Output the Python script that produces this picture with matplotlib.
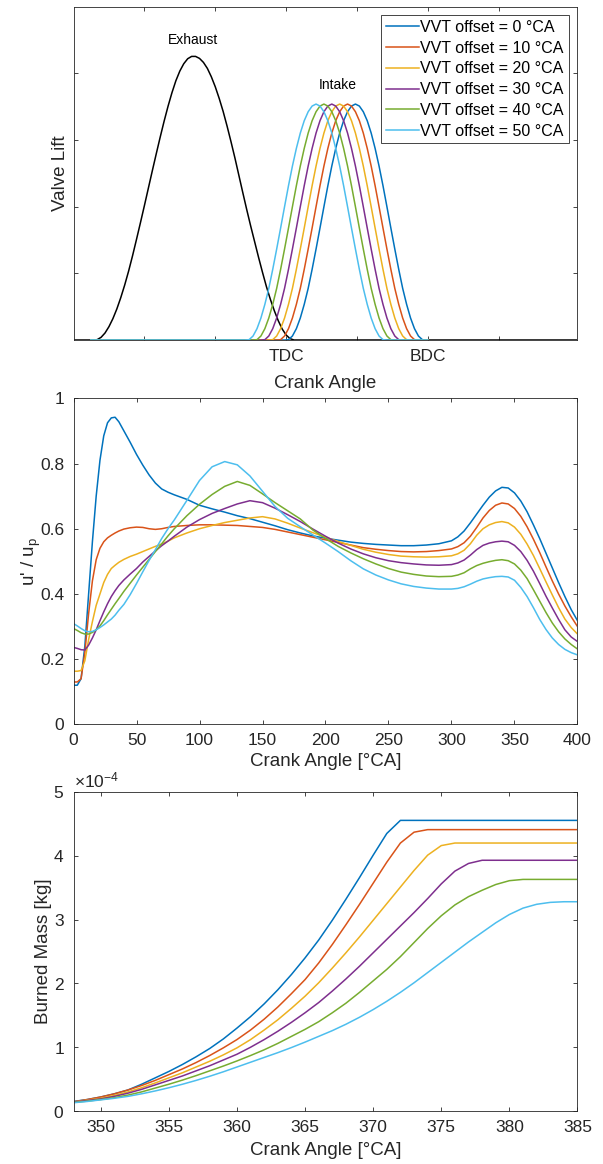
import numpy as np
import matplotlib
matplotlib.use('Agg')
import matplotlib.pyplot as plt
from matplotlib.ticker import ScalarFormatter, FuncFormatter

plt.rcParams['font.family'] = ['Liberation Sans', 'DejaVu Sans']
plt.rcParams['mathtext.fontset'] = 'custom'
plt.rcParams['mathtext.rm'] = 'Liberation Sans'
plt.rcParams['mathtext.it'] = 'Liberation Sans:italic'
plt.rcParams['mathtext.bf'] = 'Liberation Sans:bold'

# --- datos ---
vvt_offsets = [0, 10, 20, 30, 40, 50]
labels = [f"VVT offset = {o} °CA" for o in vvt_offsets]
colores = ['#0072BD', '#D95319', '#EDB120', '#7E2F8E', '#77AC30', '#4DBEEE']

# valve lift (panel 1)
ca_exh = [90, 115, 120, 125, 130, 135, 140, 145, 150, 155, 160, 165, 170, 175, 180, 185, 190,
          195, 200, 205, 210, 215, 220, 225, 230, 235, 240, 245, 250, 255, 260, 265, 270, 275,
          280, 285, 290, 295, 300, 305, 310, 315, 320, 325, 330, 335, 340, 345, 350, 355, 360,
          365, 370, 730]
lift_exh = [0, 0, 0.01, 0.08, 0.21, 0.40, 0.64, 0.93, 1.27, 1.65, 2.07, 2.53, 3.02, 3.52, 4.03,
            4.55, 5.07, 5.58, 6.08, 6.56, 7.01, 7.42, 7.78, 8.07, 8.29, 8.44, 8.51, 8.51, 8.45,
            8.33, 8.15, 7.90, 7.60, 7.25, 6.86, 6.42, 5.95, 5.46, 4.94, 4.42, 3.91, 3.42, 2.95,
            2.48, 2.03, 1.60, 1.22, 0.88, 0.58, 0.33, 0.15, 0.04, 0, 0]
ca_int = [358, 363, 368, 373, 378, 383, 388, 393, 398, 403, 408, 413, 418, 423, 428, 433, 438,
          443, 448, 453, 458, 463, 468, 473, 478, 483, 488, 493, 498, 503, 508, 513, 518, 523,
          528, 533, 538, 540]
lift_int = [0, 0.01, 0.12, 0.34, 0.66, 1.07, 1.55, 2.12, 2.73, 3.36, 4.00, 4.63, 5.22, 5.75,
            6.21, 6.58, 6.85, 7.02, 7.08, 7.02, 6.85, 6.58, 6.21, 5.75, 5.22, 4.63, 4.00, 3.36,
            2.73, 2.12, 1.55, 1.07, 0.66, 0.34, 0.12, 0.01, 0, 0]
tick_va = [180, 270, 360, 450, 540, 630]
tick_va_lbl = ['', '', 'TDC', '', 'BDC', '']

# turbulencia (panel 2)
ca_turb = [0, 3, 6, 9, 12, 15, 18, 21, 24, 27, 30, 33, 36,
           40, 45, 50, 55, 60, 65, 70, 75, 80,
           90, 100, 110, 120, 130, 140, 150, 160, 170, 180, 190, 200, 210, 220, 230, 240,
           250, 260, 270, 280, 290, 300,
           305, 310, 315, 320, 325, 330, 335, 340, 345, 350, 355, 360, 365, 370, 375, 380,
           385, 390, 395, 400]
turb_0 = [0.12, 0.12, 0.14, 0.24, 0.40, 0.56, 0.70, 0.81, 0.885, 0.925, 0.940, 0.942, 0.928,
          0.900, 0.865, 0.828, 0.795, 0.765, 0.740, 0.722, 0.712, 0.704,
          0.690, 0.672, 0.661, 0.651, 0.640, 0.631, 0.620, 0.609, 0.597, 0.587, 0.578, 0.571,
          0.565, 0.559, 0.555, 0.552, 0.550, 0.548, 0.548, 0.550, 0.554, 0.563,
          0.575, 0.593, 0.618, 0.645, 0.672, 0.697, 0.716, 0.727, 0.725, 0.710, 0.685, 0.652,
          0.612, 0.570, 0.525, 0.480, 0.435, 0.392, 0.352, 0.318]
turb_10 = [0.13, 0.13, 0.14, 0.22, 0.34, 0.44, 0.505, 0.540, 0.560, 0.572, 0.580, 0.587, 0.593,
           0.599, 0.603, 0.605, 0.604, 0.600, 0.598, 0.600, 0.604, 0.607,
           0.610, 0.612, 0.612, 0.611, 0.610, 0.607, 0.604, 0.598, 0.590, 0.582, 0.574, 0.566,
           0.558, 0.550, 0.542, 0.537, 0.533, 0.530, 0.529, 0.530, 0.533, 0.538,
           0.545, 0.557, 0.577, 0.604, 0.633, 0.656, 0.672, 0.679, 0.676, 0.662, 0.638, 0.606,
           0.568, 0.527, 0.483, 0.440, 0.400, 0.363, 0.330, 0.300]
turb_20 = [0.163, 0.163, 0.165, 0.195, 0.26, 0.315, 0.365, 0.40, 0.435, 0.46, 0.478, 0.488, 0.497,
           0.506, 0.515, 0.522, 0.530, 0.538, 0.546, 0.553, 0.562, 0.572,
           0.587, 0.600, 0.610, 0.619, 0.626, 0.633, 0.637, 0.630, 0.617, 0.602, 0.588, 0.574,
           0.561, 0.549, 0.537, 0.528, 0.521, 0.516, 0.514, 0.513, 0.514, 0.517,
           0.523, 0.534, 0.554, 0.580, 0.600, 0.612, 0.619, 0.622, 0.618, 0.605, 0.583, 0.553,
           0.518, 0.478, 0.437, 0.397, 0.358, 0.323, 0.297, 0.277]
turb_30 = [0.236, 0.233, 0.229, 0.228, 0.243, 0.265, 0.290, 0.318, 0.345, 0.370, 0.392, 0.410, 0.426,
           0.443, 0.461, 0.478, 0.498, 0.515, 0.532, 0.548, 0.562, 0.577,
           0.605, 0.628, 0.647, 0.662, 0.676, 0.686, 0.680, 0.663, 0.643, 0.622, 0.599, 0.577,
           0.556, 0.538, 0.523, 0.511, 0.502, 0.496, 0.492, 0.489, 0.488, 0.490,
           0.495, 0.504, 0.519, 0.536, 0.549, 0.556, 0.560, 0.562, 0.560, 0.549, 0.530, 0.503,
           0.470, 0.432, 0.393, 0.357, 0.322, 0.290, 0.268, 0.254]
turb_40 = [0.294, 0.288, 0.281, 0.277, 0.277, 0.282, 0.290, 0.302, 0.318, 0.336, 0.353, 0.370, 0.386,
           0.408, 0.433, 0.458, 0.482, 0.506, 0.530, 0.554, 0.578, 0.600,
           0.640, 0.675, 0.705, 0.730, 0.745, 0.733, 0.707, 0.680, 0.655, 0.630, 0.596, 0.570,
           0.546, 0.526, 0.508, 0.492, 0.478, 0.467, 0.460, 0.455, 0.453, 0.454,
           0.458, 0.465, 0.477, 0.487, 0.494, 0.499, 0.503, 0.505, 0.502, 0.492, 0.473, 0.447,
           0.413, 0.378, 0.343, 0.311, 0.284, 0.262, 0.245, 0.231]
turb_50 = [0.309, 0.302, 0.294, 0.287, 0.284, 0.285, 0.290, 0.297, 0.305, 0.314, 0.323, 0.335, 0.350,
           0.368, 0.398, 0.432, 0.468, 0.503, 0.536, 0.570, 0.600, 0.627,
           0.687, 0.748, 0.790, 0.806, 0.796, 0.762, 0.715, 0.668, 0.632, 0.606, 0.581, 0.556,
           0.530, 0.502, 0.477, 0.458, 0.443, 0.431, 0.423, 0.418, 0.415, 0.415,
           0.417, 0.422, 0.430, 0.439, 0.446, 0.450, 0.453, 0.454, 0.452, 0.442, 0.420, 0.392,
           0.358, 0.322, 0.291, 0.265, 0.245, 0.230, 0.220, 0.213]

# masa quemada (panel 3), en 1e-4 kg
ca_burn = [348, 349, 350, 351, 352, 353, 354, 355, 356, 357, 358, 359, 360, 361, 362, 363, 364,
           365, 366, 367, 368, 369, 370, 371, 372, 373, 374, 375, 376, 377, 378, 379, 380, 381,
           382, 383, 384, 385]
burn_0 = [0.15, 0.18, 0.22, 0.27, 0.33, 0.42, 0.52, 0.62, 0.73, 0.85, 0.98, 1.13, 1.30, 1.48,
          1.68, 1.90, 2.14, 2.40, 2.68, 2.99, 3.32, 3.66, 4.01, 4.35, 4.555, 4.555, 4.555, 4.555,
          4.555, 4.555, 4.555, 4.555, 4.555, 4.555, 4.555, 4.555, 4.555, 4.555]
burn_10 = [0.145, 0.18, 0.22, 0.27, 0.33, 0.40, 0.48, 0.57, 0.66, 0.76, 0.87, 0.99, 1.12, 1.27,
           1.44, 1.63, 1.84, 2.06, 2.32, 2.61, 2.92, 3.24, 3.57, 3.90, 4.20, 4.37, 4.41, 4.41,
           4.41, 4.41, 4.41, 4.41, 4.41, 4.41, 4.41, 4.41, 4.41, 4.41]
burn_20 = [0.14, 0.17, 0.20, 0.245, 0.30, 0.365, 0.44, 0.52, 0.60, 0.69, 0.78, 0.88, 0.99, 1.12,
           1.27, 1.43, 1.61, 1.80, 2.01, 2.24, 2.48, 2.73, 2.99, 3.25, 3.51, 3.77, 4.01, 4.16,
           4.20, 4.20, 4.20, 4.20, 4.20, 4.20, 4.20, 4.20, 4.20, 4.20]
burn_30 = [0.14, 0.165, 0.19, 0.23, 0.28, 0.34, 0.41, 0.48, 0.55, 0.63, 0.71, 0.80, 0.89, 1.00,
           1.12, 1.25, 1.39, 1.54, 1.70, 1.88, 2.07, 2.27, 2.48, 2.69, 2.90, 3.11, 3.33, 3.56,
           3.76, 3.88, 3.93, 3.93, 3.93, 3.93, 3.93, 3.93, 3.93, 3.93]
burn_40 = [0.135, 0.155, 0.18, 0.21, 0.25, 0.30, 0.36, 0.42, 0.485, 0.555, 0.63, 0.705, 0.785,
           0.87, 0.96, 1.06, 1.17, 1.28, 1.40, 1.54, 1.69, 1.86, 2.04, 2.22, 2.42, 2.64, 2.86,
           3.06, 3.23, 3.36, 3.46, 3.55, 3.61, 3.63, 3.63, 3.63, 3.63, 3.63]
burn_50 = [0.13, 0.15, 0.175, 0.20, 0.23, 0.27, 0.315, 0.365, 0.42, 0.48, 0.545, 0.615, 0.69,
           0.765, 0.84, 0.915, 0.995, 1.08, 1.17, 1.26, 1.36, 1.47, 1.59, 1.72, 1.86, 2.01, 2.17,
           2.33, 2.49, 2.65, 2.80, 2.95, 3.08, 3.18, 3.24, 3.27, 3.28, 3.28]

turb = [turb_0, turb_10, turb_20, turb_30, turb_40, turb_50]
burn = [burn_0, burn_10, burn_20, burn_30, burn_40, burn_50]

gris = '#262626'


def estilo(ax):
    ax.tick_params(direction='in', top=True, right=True, length=3, width=0.6,
                   colors=gris, labelsize=12.5, pad=6.5)
    for s in ax.spines.values():
        s.set_color(gris)
        s.set_linewidth(0.6)


fig = plt.figure(figsize=(6.03, 11.64), dpi=100)

# --- Panel 1: levantamiento de valvulas ---
ax1 = fig.add_axes([0.1219, 0.7079, 0.8358, 0.2863])
ax1.plot(ca_exh, lift_exh, color='black', lw=1.1)
for off, c, lab in zip(vvt_offsets, colores, labels):
    x = np.concatenate([[112], np.array(ca_int) - off, [540]])
    y = np.concatenate([[0], lift_int, [0]])
    ax1.plot(x, y, color=c, lw=1.1, label=lab)
ax1.text(242, 9.0, 'Exhaust', ha='center', va='center', fontsize=10)
ax1.text(425, 7.65, 'Intake', ha='center', va='center', fontsize=10)
ax1.set_xlim(90, 730)
ax1.set_ylim(0, 10)
ax1.set_xticks(tick_va)
ax1.set_xticklabels(tick_va_lbl)
ax1.set_yticks([2, 4, 6, 8])
ax1.set_yticklabels([])
ax1.set_xlabel('Crank Angle', fontsize=13.5, color=gris, labelpad=8)
ax1.set_ylabel('Valve Lift', fontsize=13.5, color=gris, labelpad=-3)
estilo(ax1)
leg = ax1.legend(loc='upper right', bbox_to_anchor=(0.9825, 0.975), borderaxespad=0,
                 fontsize=11.5, fancybox=False, framealpha=1, edgecolor=gris,
                 handlelength=2.05, handletextpad=0.1, labelspacing=0.36, borderpad=0.3)
leg.get_frame().set_linewidth(0.6)

# --- Panel 2: u'/up ---
ax2 = fig.add_axes([0.1219, 0.3777, 0.8358, 0.2801])
for y, c in zip(turb, colores):
    ax2.plot(ca_turb, y, color=c, lw=1.1)
ax2.set_xlim(0, 400)
ax2.set_ylim(0, 1)
ax2.set_xticks(np.arange(0, 401, 50))
ax2.set_yticks(np.arange(0, 1.01, 0.2))
ax2.yaxis.set_major_formatter(FuncFormatter(lambda v, p: f'{v:g}'))
ax2.set_xlabel('Crank Angle [°CA]', fontsize=13.5, color=gris, labelpad=3)
ax2.set_ylabel("u' / u$_\\mathrm{p}$", fontsize=13.5, color=gris, labelpad=-2)
estilo(ax2)

# --- Panel 3: masa quemada ---
ax3 = fig.add_axes([0.1219, 0.0455, 0.8358, 0.2741])
for y, c in zip(burn, colores):
    ax3.plot(ca_burn, np.array(y) * 1e-4, color=c, lw=1.1)
ax3.set_xlim(348, 385)
ax3.set_ylim(0, 5e-4)
ax3.set_xticks(np.arange(350, 386, 5))
ax3.set_yticks(np.arange(0, 5.01e-4, 1e-4))
fmt = ScalarFormatter(useMathText=True)
fmt.set_powerlimits((0, 0))
ax3.yaxis.set_major_formatter(fmt)
ax3.yaxis.get_offset_text().set_fontsize(12.5)
ax3.yaxis.get_offset_text().set_color(gris)
ax3.set_xlabel('Crank Angle [°CA]', fontsize=13.5, color=gris, labelpad=5)
ax3.set_ylabel('Burned Mass [kg]', fontsize=13.5, color=gris, labelpad=1)
estilo(ax3)

fig.savefig('out.png', dpi=100)
